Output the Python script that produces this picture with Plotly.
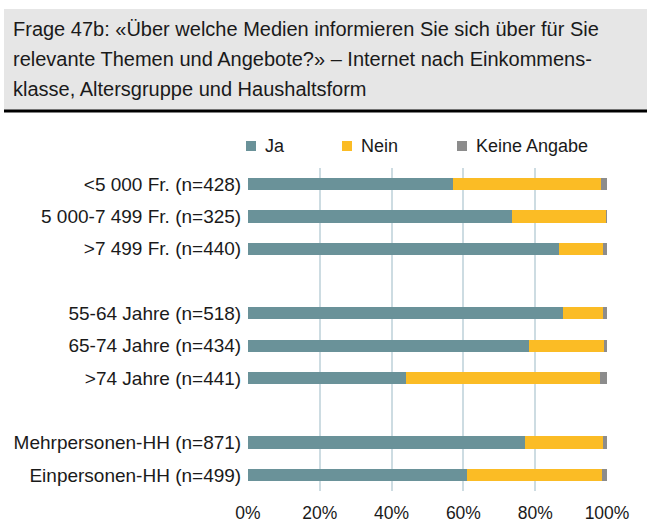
import plotly.graph_objects as go

categories = [
    ["<5 000 Fr. (n=428)", "5 000-7 499 Fr. (n=325)", ">7 499 Fr. (n=440)"],
    ["55-64 Jahre (n=518)", "65-74 Jahre (n=434)", ">74 Jahre (n=441)"],
    ["Mehrpersonen-HH (n=871)", "Einpersonen-HH (n=499)"],
]
series_names = ["Ja", "Nein", "Keine Angabe"]
ja = [57.1, 73.6, 86.5, 87.7, 78.3, 44.0, 77.2, 61.1]
nein = [41.2, 26.2, 12.5, 11.1, 21.0, 54.1, 21.6, 37.4]
keine = [1.7, 0.2, 1.0, 1.2, 0.7, 1.9, 1.2, 1.5]
x_ticks = [0, 20, 40, 60, 80, 100]
x_ticklabels = ["0%", "20%", "40%", "60%", "80%", "100%"]
title_lines = [
    "Frage 47b: «Über welche Medien informieren Sie sich über für Sie",
    "relevante Themen und Angebote?» – Internet nach Einkommens-",
    "klasse, Altersgruppe und Haushaltsform",
]

# positions: groups separated by an empty slot
labels, ypos = [], []
slot = 0
for g in categories:
    for c in g:
        labels.append(c)
        ypos.append(slot)
        slot += 1
    slot += 1
n_slots = slot - 1

FONT = "Liberation Sans, Arial, sans-serif"
colors = ["#6a9299", "#fbbc25", "#8c8c8c"]
fig = go.Figure()
for name, vals, col in zip(series_names, [ja, nein, keine], colors):
    fig.add_trace(go.Bar(
        y=ypos, x=vals, name=name, orientation="h", marker=dict(color=col, line=dict(width=0)),
        width=0.38, showlegend=False,
    ))

# plot area: x 248..607, y 168..491
L, R, T, B = 248, 41, 168, 40
W, H = 648, 531
pw, ph = W - L - R, H - T - B

def px(x):
    return (x - L) / pw

def py(y):
    return (H - B - y) / ph

shapes = [
    dict(type="rect", xref="paper", yref="paper", x0=px(4), x1=px(647), y0=py(110), y1=py(9),
         fillcolor="#e6e6e6", line=dict(width=0), layer="below"),
    dict(type="line", xref="paper", yref="paper", x0=px(4), x1=px(647), y0=py(111), y1=py(111),
         line=dict(color="#000000", width=3)),
]
annotations = []
for i, line in enumerate(title_lines):
    annotations.append(dict(
        xref="paper", yref="paper", x=px(11), y=py(29 + 30 * i), xanchor="left", yanchor="middle",
        showarrow=False, align="left", text=line, font=dict(family=FONT, size=20, color="#1a1a1a")))

# legend (drawn manually for exact spacing)
legend_sq_x = [251, 347, 462]
legend_y = 146
for name, col, cx in zip(series_names, colors, legend_sq_x):
    shapes.append(dict(type="rect", xref="paper", yref="paper", x0=px(cx - 5), x1=px(cx + 5),
                       y0=py(legend_y + 5), y1=py(legend_y - 5), fillcolor=col, line=dict(width=0)))
    annotations.append(dict(xref="paper", yref="paper", x=px(cx + 12), y=py(legend_y), xanchor="left",
                            yanchor="middle", showarrow=False, text=name,
                            font=dict(family=FONT, size=18, color="#1a1a1a")))

fig.update_layout(
    width=W, height=H, margin=dict(l=L, r=R, t=T, b=B, autoexpand=False),
    paper_bgcolor="white", plot_bgcolor="white",
    barmode="stack", bargap=0.6,
    font=dict(family=FONT, size=16, color="#1a1a1a"),
    showlegend=False,
    xaxis=dict(range=[0, 100], tickvals=x_ticks, ticktext=x_ticklabels, showgrid=True, gridcolor="#cddce2",
               gridwidth=1.5, zeroline=False, showline=False, ticks="outside", ticklen=6,
               tickcolor="rgba(0,0,0,0)", tickfont=dict(size=17.5), fixedrange=True, automargin=False),
    yaxis=dict(range=[n_slots - 0.5, -0.5], tickvals=ypos, ticktext=labels, showgrid=False, zeroline=False,
               showline=False, ticks="outside", ticklen=2, tickcolor="rgba(0,0,0,0)", tickfont=dict(size=19),
               automargin=False),
    shapes=shapes, annotations=annotations,
)

fig.write_html("out.html", config={"displayModeBar": False},
               post_script="document.body.style.margin='0';")
